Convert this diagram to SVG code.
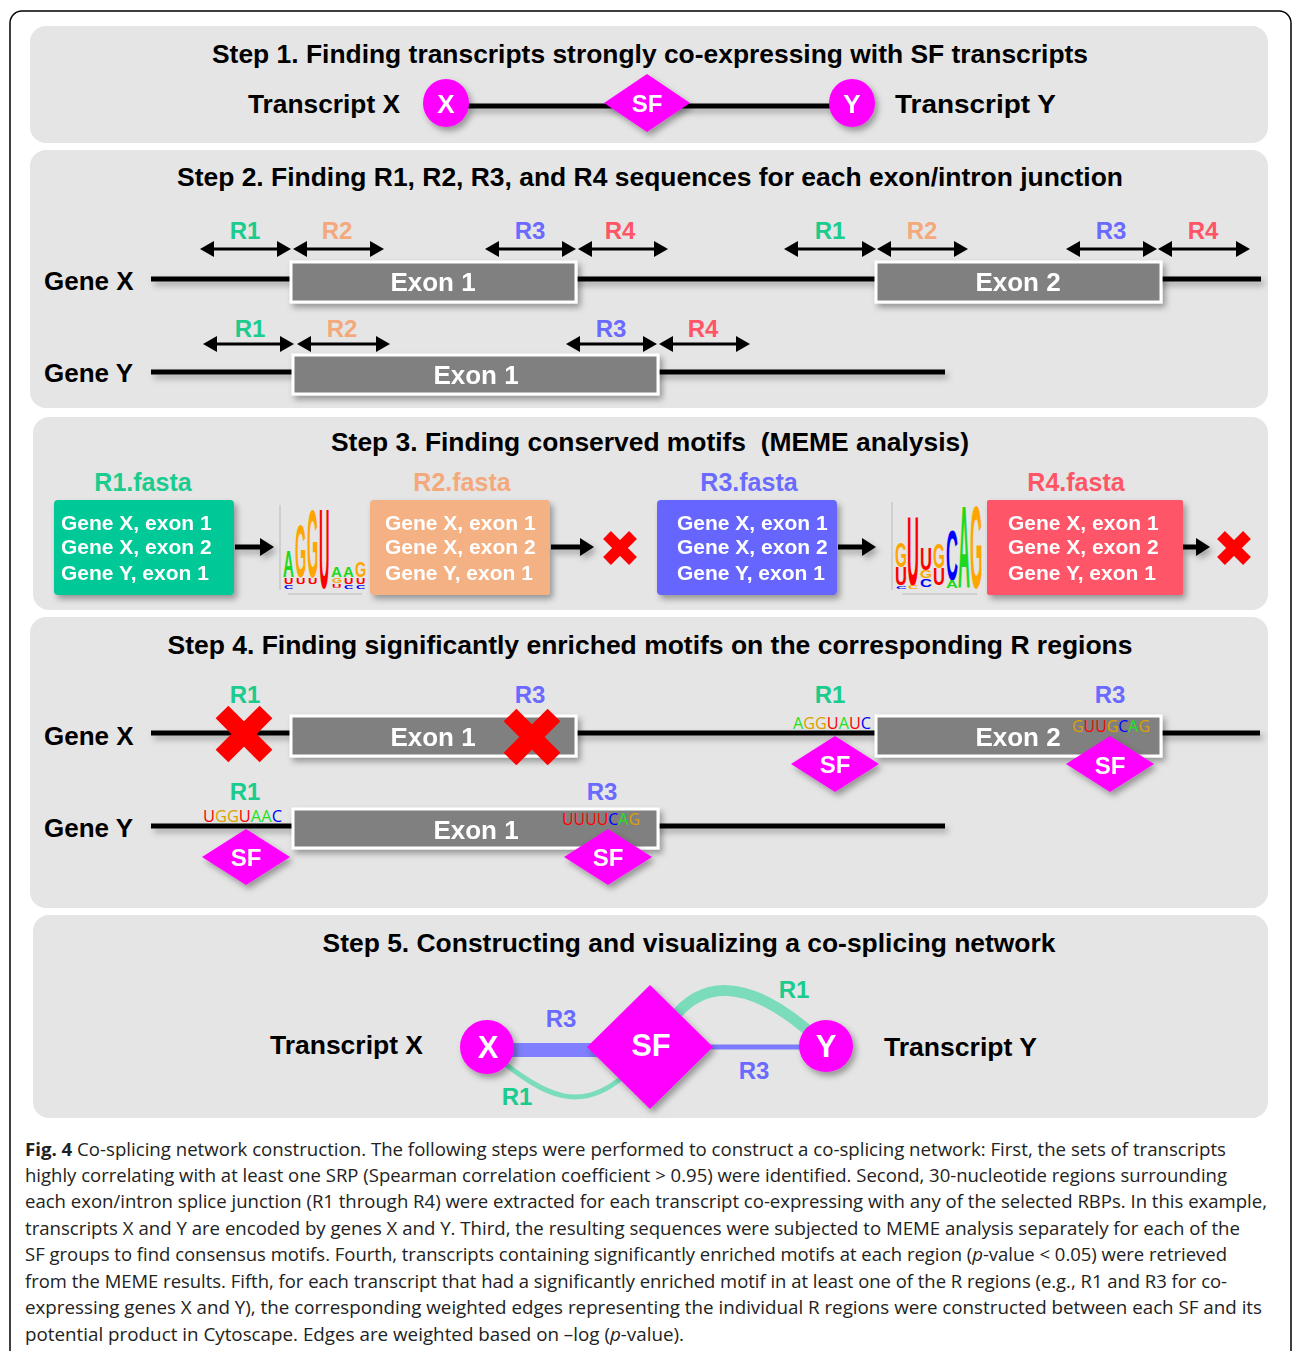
<svg xmlns="http://www.w3.org/2000/svg" width="1292" height="1351" viewBox="0 0 1292 1351">
<defs>
<filter id="sh" x="-20%" y="-30%" width="150%" height="180%"><feDropShadow dx="3" dy="4" stdDeviation="3" flood-color="#000" flood-opacity="0.35"/></filter>
<filter id="shl" filterUnits="userSpaceOnUse" x="0" y="0" width="1292" height="1351"><feDropShadow dx="3" dy="4" stdDeviation="3" flood-color="#000" flood-opacity="0.3"/></filter>
<marker id="dh" markerUnits="userSpaceOnUse" markerWidth="14" markerHeight="16" refX="4" refY="8" orient="auto-start-reverse"><path d="M0,0L14,8L0,16z" fill="#000"/></marker>
<marker id="bh" markerUnits="userSpaceOnUse" markerWidth="14" markerHeight="18" refX="4" refY="9" orient="auto"><path d="M0,0L14,9L0,18z" fill="#000"/></marker>
<path id="xs" d="M-13,-13L13,13M13,-13L-13,13" stroke="#ff0000" stroke-width="11"/>
<path id="xl" d="M-22,-22L22,22M22,-22L-22,22" stroke="#ff0000" stroke-width="18"/>
<polygon id="sf4" points="-44,0 0,-28 44,0 0,28" fill="#ff00ff"/>
</defs>
<style>
.b{font-family:"Liberation Sans",Arial,sans-serif;font-weight:bold}
.t{font-size:26px;fill:#000;text-anchor:middle}
.lab{font-size:26px;fill:#000}
.ex{font-size:26px;fill:#fff;text-anchor:middle}
.wh{fill:#fff;text-anchor:middle}
.r{font-size:24px;text-anchor:middle}
.c1{fill:#1ccb8e}.c2{fill:#f4a97c}.c3{fill:#6a6aff}.c4{fill:#ff5566}
.panel{fill:#e5e5e5}
.gl{stroke:#000;stroke-width:5}
.exon{fill:#808080;stroke:#fff;stroke-width:3}
.da{stroke:#000;stroke-width:3;marker-start:url(#dh);marker-end:url(#dh)}
.ba{stroke:#000;stroke-width:5;marker-end:url(#bh)}
.bx{font-size:21px;fill:#fff}
.fa{font-size:25px;text-anchor:middle}
.m{font-family:"Open Sans","Noto Sans",sans-serif;font-size:16px}
.lg{font-family:"Liberation Sans",Arial,sans-serif;font-weight:bold;font-size:10px}
.A{fill:#1ed81e}.G{fill:#ffa500}.U{fill:#ff0000}.C{fill:#0000ff}
.mA{fill:#1ee01e}.mG{fill:#dca000}.mU{fill:#ff0000}.mC{fill:#0000ff}
.cap{font-family:"Open Sans","Noto Sans",sans-serif;font-size:18px;fill:#222}
.ax{stroke:#bbb;stroke-width:1}
</style>

<rect x="10" y="11" width="1281" height="1400" rx="12" fill="#fff" stroke="#000" stroke-width="1.5"/>

<!-- panels -->
<rect class="panel" x="30" y="26" width="1238" height="117" rx="16"/>
<rect class="panel" x="30" y="150" width="1238" height="258" rx="16"/>
<rect class="panel" x="33" y="417" width="1235" height="193" rx="16"/>
<rect class="panel" x="30" y="617" width="1238" height="291" rx="16"/>
<rect class="panel" x="33" y="915" width="1235" height="203" rx="16"/>

<!-- ===== STEP 1 ===== -->
<g id="step1">
<text class="b t" x="650" y="63" textLength="876" lengthAdjust="spacingAndGlyphs">Step 1. Finding transcripts strongly co-expressing with SF transcripts</text>
<text class="b lab" x="248" y="113" textLength="152" lengthAdjust="spacingAndGlyphs">Transcript X</text>
<text class="b lab" x="895" y="113" textLength="161" lengthAdjust="spacingAndGlyphs">Transcript  Y</text>
<g id="s1-edges" filter="url(#shl)"><line class="gl" x1="466" y1="106" x2="832" y2="106"/></g>
<g id="s1-X" filter="url(#sh)"><ellipse cx="446" cy="103" rx="23" ry="24" fill="#ff00ff"/><text class="b wh" x="446" y="113" font-size="26">X</text></g>
<g id="s1-SF" filter="url(#sh)"><polygon points="604,103 647,74 690,103 647,132" fill="#ff00ff"/><text class="b wh" x="647" y="112" font-size="24">SF</text></g>
<g id="s1-Y" filter="url(#sh)"><ellipse cx="852" cy="103" rx="23" ry="24" fill="#ff00ff"/><text class="b wh" x="852" y="113" font-size="26">Y</text></g>
</g>

<!-- ===== STEP 2 ===== -->
<g id="step2">
<text class="b t" x="650" y="186" textLength="946" lengthAdjust="spacingAndGlyphs">Step 2. Finding R1, R2, R3, and R4 sequences for each exon/intron junction</text>
<text class="b lab" x="44" y="290">Gene X</text>
<text class="b lab" x="44" y="382">Gene Y</text>
<g filter="url(#shl)">
<line class="gl" x1="151" y1="279" x2="1261" y2="279"/>
<line class="gl" x1="151" y1="372" x2="945" y2="372"/>
</g>
<g id="s2-gx-exon1" filter="url(#sh)"><rect class="exon" x="291" y="262" width="285" height="40"/><text class="b ex" x="433" y="291">Exon 1</text></g>
<g id="s2-gx-exon2" filter="url(#sh)"><rect class="exon" x="876" y="262" width="285" height="40"/><text class="b ex" x="1018" y="291">Exon 2</text></g>
<g id="s2-gy-exon1" filter="url(#sh)"><rect class="exon" x="293" y="355" width="365" height="39"/><text class="b ex" x="476" y="384">Exon 1</text></g>
<g id="s2-arrows">
<line class="da" x1="210" y1="249" x2="281" y2="249"/>
<line class="da" x1="303" y1="249" x2="374" y2="249"/>
<line class="da" x1="495" y1="249" x2="566" y2="249"/>
<line class="da" x1="588" y1="249" x2="658" y2="249"/>
<line class="da" x1="794" y1="249" x2="866" y2="249"/>
<line class="da" x1="887" y1="249" x2="958" y2="249"/>
<line class="da" x1="1076" y1="249" x2="1147" y2="249"/>
<line class="da" x1="1168" y1="249" x2="1240" y2="249"/>
<line class="da" x1="213" y1="344" x2="284" y2="344"/>
<line class="da" x1="307" y1="344" x2="380" y2="344"/>
<line class="da" x1="576" y1="344" x2="647" y2="344"/>
<line class="da" x1="669" y1="344" x2="740" y2="344"/>
</g>
<g id="s2-labels">
<text class="b r c1" x="245" y="239">R1</text><text class="b r c2" x="337" y="239">R2</text>
<text class="b r c3" x="530" y="239">R3</text><text class="b r c4" x="620" y="239">R4</text>
<text class="b r c1" x="830" y="239">R1</text><text class="b r c2" x="922" y="239">R2</text>
<text class="b r c3" x="1111" y="239">R3</text><text class="b r c4" x="1203" y="239">R4</text>
<text class="b r c1" x="250" y="337">R1</text><text class="b r c2" x="342" y="337">R2</text>
<text class="b r c3" x="611" y="337">R3</text><text class="b r c4" x="703" y="337">R4</text>
</g>
</g>

<!-- ===== STEP 3 ===== -->
<g id="step3">
<text class="b t" x="650" y="451" textLength="638" lengthAdjust="spacingAndGlyphs" xml:space="preserve">Step 3. Finding conserved motifs  (MEME analysis)</text>
<text class="b fa c1" x="143" y="491">R1.fasta</text>
<text class="b fa c2" x="462" y="491">R2.fasta</text>
<text class="b fa c3" x="749" y="491">R3.fasta</text>
<text class="b fa c4" x="1076" y="491">R4.fasta</text>
<g id="r1-box" filter="url(#sh)"><rect x="54" y="500" width="180" height="95" rx="4" fill="#00c896"/>
<text class="b bx" x="61" y="530">Gene X, exon 1</text><text class="b bx" x="61" y="554">Gene X, exon 2</text><text class="b bx" x="61" y="580">Gene Y, exon 1</text></g>
<g id="r2-box" filter="url(#sh)"><rect x="370" y="500" width="180" height="95" rx="4" fill="#f4b183"/>
<text class="b bx" x="385" y="530">Gene X, exon 1</text><text class="b bx" x="385" y="554">Gene X, exon 2</text><text class="b bx" x="385" y="580">Gene Y, exon 1</text></g>
<g id="r3-box" filter="url(#sh)"><rect x="657" y="500" width="180" height="95" rx="4" fill="#6666ff"/>
<text class="b bx" x="677" y="530">Gene X, exon 1</text><text class="b bx" x="677" y="554">Gene X, exon 2</text><text class="b bx" x="677" y="580">Gene Y, exon 1</text></g>
<g id="r4-box" filter="url(#sh)"><rect x="987" y="500" width="196" height="95" rx="2" fill="#ff5468"/>
<text class="b bx" x="1008" y="530">Gene X, exon 1</text><text class="b bx" x="1008" y="554">Gene X, exon 2</text><text class="b bx" x="1008" y="580">Gene Y, exon 1</text></g>
<g id="s3-arrows" filter="url(#shl)">
<line class="ba" x1="235" y1="547" x2="264" y2="547"/>
<line class="ba" x1="551" y1="547" x2="584" y2="547"/>
<line class="ba" x1="838" y1="547" x2="866" y2="547"/>
<line class="ba" x1="1183" y1="547" x2="1200" y2="547"/>
</g>
<use href="#xs" x="620" y="548"/>
<use href="#xs" x="1234" y="548"/>
<g id="logo1">
<line class="ax" x1="280" y1="505" x2="280" y2="590"/><line class="ax" x1="288" y1="594" x2="362" y2="594"/>
<text class="lg A" transform="translate(283,577) scale(1.52,3.77)">A</text>
<text class="lg U" transform="translate(284,584) scale(1.3,0.84)">U</text>
<text class="lg C" transform="translate(284,589) scale(1.3,0.56)">C</text>
<text class="lg G" transform="translate(295,577) scale(1.45,7.4)">G</text>
<text class="lg U" transform="translate(296,584) scale(1.3,0.84)">U</text>
<text class="lg G" transform="translate(307,577) scale(1.45,9.64)">G</text>
<text class="lg U" transform="translate(308,584) scale(1.3,0.84)">U</text>
<text class="lg U" transform="translate(319,588) scale(1.45,11.31)">U</text>
<text class="lg A" transform="translate(331,577) scale(1.52,1.54)">A</text>
<text class="lg G" transform="translate(332,583) scale(1.3,0.7)">G</text>
<text class="lg U" transform="translate(332,588) scale(1.3,0.56)">U</text>
<text class="lg A" transform="translate(343,577) scale(1.52,1.54)">A</text>
<text class="lg U" transform="translate(344,584) scale(1.3,0.84)">U</text>
<text class="lg C" transform="translate(344,589) scale(1.3,0.56)">C</text>
<text class="lg G" transform="translate(355,577) scale(1.45,2.23)">G</text>
<text class="lg U" transform="translate(356,584) scale(1.3,0.84)">U</text>
<text class="lg C" transform="translate(356,589) scale(1.3,0.56)">C</text>
</g>
<g id="logo2">
<line class="ax" x1="892" y1="502" x2="892" y2="590"/><line class="ax" x1="902" y1="594" x2="977" y2="594"/>
<text class="lg G" transform="translate(895,567) scale(1.54,3.49)">G</text>
<text class="lg U" transform="translate(895,585) scale(1.66,2.51)">U</text>
<text class="lg C" transform="translate(896,589) scale(1.5,0.42)">C</text>
<text class="lg U" transform="translate(907,585) scale(1.66,9.78)">U</text>
<text class="lg G" transform="translate(908,589) scale(1.4,0.56)">C</text>
<text class="lg U" transform="translate(920,570) scale(1.66,3.07)">U</text>
<text class="lg G" transform="translate(920,578) scale(1.54,1.12)">G</text>
<text class="lg C" transform="translate(920,587) scale(1.66,1.12)">C</text>
<text class="lg G" transform="translate(933,568) scale(1.54,3.49)">G</text>
<text class="lg U" transform="translate(933,585) scale(1.66,2.37)">U</text>
<text class="lg C" transform="translate(946,580) scale(1.66,6.98)">C</text>
<text class="lg A" transform="translate(946,588) scale(1.66,1.12)">A</text>
<text class="lg A" transform="translate(958,588) scale(1.66,11.59)">A</text>
<text class="lg G" transform="translate(970,588) scale(1.6,11.59)">G</text>
</g>
</g>

<!-- ===== STEP 4 ===== -->
<g id="step4">
<text class="b t" x="650" y="654" textLength="965" lengthAdjust="spacingAndGlyphs">Step 4. Finding significantly enriched motifs on the corresponding R regions</text>
<text class="b lab" x="44" y="745">Gene X</text>
<text class="b lab" x="44" y="837">Gene Y</text>
<g filter="url(#shl)">
<line class="gl" x1="151" y1="733" x2="1260" y2="733"/>
<line class="gl" x1="151" y1="826" x2="945" y2="826"/>
</g>
<g id="s4-gx-exon1" filter="url(#sh)"><rect class="exon" x="291" y="716" width="285" height="40"/><text class="b ex" x="433" y="746">Exon 1</text></g>
<g id="s4-gx-exon2" filter="url(#sh)"><rect class="exon" x="876" y="716" width="285" height="40"/><text class="b ex" x="1018" y="746">Exon 2</text></g>
<g id="s4-gy-exon1" filter="url(#sh)"><rect class="exon" x="293" y="809" width="365" height="39"/><text class="b ex" x="476" y="839">Exon 1</text></g>
<text class="b r c1" x="245" y="703">R1</text><text class="b r c3" x="530" y="703">R3</text>
<text class="b r c1" x="830" y="703">R1</text><text class="b r c3" x="1110" y="703">R3</text>
<text class="b r c1" x="245" y="800">R1</text><text class="b r c3" x="602" y="800">R3</text>
<use href="#xl" x="244" y="734"/>
<use href="#xl" x="532" y="737"/>
<text class="m" x="793" y="729" textLength="78" lengthAdjust="spacingAndGlyphs"><tspan class="mA">A</tspan><tspan class="mG">GG</tspan><tspan class="mU">U</tspan><tspan class="mA">A</tspan><tspan class="mU">U</tspan><tspan class="mC">C</tspan></text>
<text class="m" x="1072" y="732" textLength="78" lengthAdjust="spacingAndGlyphs"><tspan class="mG">G</tspan><tspan class="mU">UU</tspan><tspan class="mG">G</tspan><tspan class="mC">C</tspan><tspan class="mA">A</tspan><tspan class="mG">G</tspan></text>
<text class="m" x="203" y="822" textLength="79" lengthAdjust="spacingAndGlyphs"><tspan class="mU">U</tspan><tspan class="mG">GG</tspan><tspan class="mU">U</tspan><tspan class="mA">AA</tspan><tspan class="mC">C</tspan></text>
<text class="m" x="562" y="825" textLength="78" lengthAdjust="spacingAndGlyphs"><tspan class="mU">UUUU</tspan><tspan class="mC">C</tspan><tspan class="mA">A</tspan><tspan class="mG">G</tspan></text>
<g id="s4-sf1" filter="url(#sh)"><use href="#sf4" x="835" y="764"/><text class="b wh" x="835" y="773" font-size="24">SF</text></g>
<g id="s4-sf2" filter="url(#sh)"><use href="#sf4" x="1110" y="764"/><text class="b wh" x="1110" y="774" font-size="24">SF</text></g>
<g id="s4-sf3" filter="url(#sh)"><use href="#sf4" x="246" y="857"/><text class="b wh" x="246" y="866" font-size="24">SF</text></g>
<g id="s4-sf4" filter="url(#sh)"><use href="#sf4" x="608" y="857"/><text class="b wh" x="608" y="866" font-size="24">SF</text></g>
</g>

<!-- ===== STEP 5 ===== -->
<g id="step5">
<text class="b t" x="689" y="952" textLength="733" lengthAdjust="spacingAndGlyphs">Step 5. Constructing and visualizing a co-splicing network</text>
<text class="b lab" x="270" y="1054" textLength="153" lengthAdjust="spacingAndGlyphs">Transcript X</text>
<text class="b lab" x="884" y="1056" textLength="153" lengthAdjust="spacingAndGlyphs">Transcript Y</text>
<g id="s5-edges" fill="none">
<line x1="505" y1="1050" x2="610" y2="1050" stroke="#8080ff" stroke-width="14"/>
<line x1="700" y1="1047" x2="812" y2="1047" stroke="#7b7bff" stroke-width="5"/>
<path d="M672,1020 C700,982 745,975 812,1034" stroke="#7adcbb" stroke-width="11"/>
<path d="M500,1060 C545,1095 580,1115 625,1075" stroke="#7adcbb" stroke-width="5"/>
</g>
<g id="s5-X" filter="url(#sh)"><ellipse cx="487" cy="1047" rx="27" ry="27" fill="#ff00ff"/><text class="b wh" x="488" y="1058" font-size="31">X</text></g>
<g id="s5-SF" filter="url(#sh)"><polygon points="587,1047 650,985 713,1047 650,1109" fill="#ff00ff"/><text class="b wh" x="651" y="1056" font-size="31">SF</text></g>
<g id="s5-Y" filter="url(#sh)"><ellipse cx="826" cy="1046" rx="27" ry="26" fill="#ff00ff"/><text class="b wh" x="826" y="1057" font-size="31">Y</text></g>
<text class="b r c3" x="561" y="1027">R3</text>
<text class="b r c1" x="794" y="998">R1</text>
<text class="b r c3" x="754" y="1079">R3</text>
<text class="b r c1" x="517" y="1105">R1</text>
</g>

<!-- ===== CAPTION ===== -->
<g id="caption" class="cap">
<text x="25" y="1156" textLength="1201" lengthAdjust="spacingAndGlyphs"><tspan font-weight="bold">Fig. 4</tspan> Co-splicing network construction. The following steps were performed to construct a co-splicing network: First, the sets of transcripts</text>
<text x="25" y="1182" textLength="1202" lengthAdjust="spacingAndGlyphs">highly correlating with at least one SRP (Spearman correlation coefficient &gt; 0.95) were identified. Second, 30-nucleotide regions surrounding</text>
<text x="25" y="1208" textLength="1242" lengthAdjust="spacingAndGlyphs">each exon/intron splice junction (R1 through R4) were extracted for each transcript co-expressing with any of the selected RBPs. In this example,</text>
<text x="25" y="1235" textLength="1215" lengthAdjust="spacingAndGlyphs">transcripts X and Y are encoded by genes X and Y. Third, the resulting sequences were subjected to MEME analysis separately for each of the</text>
<text x="25" y="1261" textLength="1202" lengthAdjust="spacingAndGlyphs">SF groups to find consensus motifs. Fourth, transcripts containing significantly enriched motifs at each region (<tspan font-style="italic">p</tspan>-value &lt; 0.05) were retrieved</text>
<text x="25" y="1288" textLength="1202" lengthAdjust="spacingAndGlyphs">from the MEME results. Fifth, for each transcript that had a significantly enriched motif in at least one of the R regions (e.g., R1 and R3 for co-</text>
<text x="25" y="1314" textLength="1237" lengthAdjust="spacingAndGlyphs">expressing genes X and Y), the corresponding weighted edges representing the individual R regions were constructed between each SF and its</text>
<text x="25" y="1341" textLength="659" lengthAdjust="spacingAndGlyphs">potential product in Cytoscape. Edges are weighted based on –log (<tspan font-style="italic">p</tspan>-value).</text>
</g>
</svg>
